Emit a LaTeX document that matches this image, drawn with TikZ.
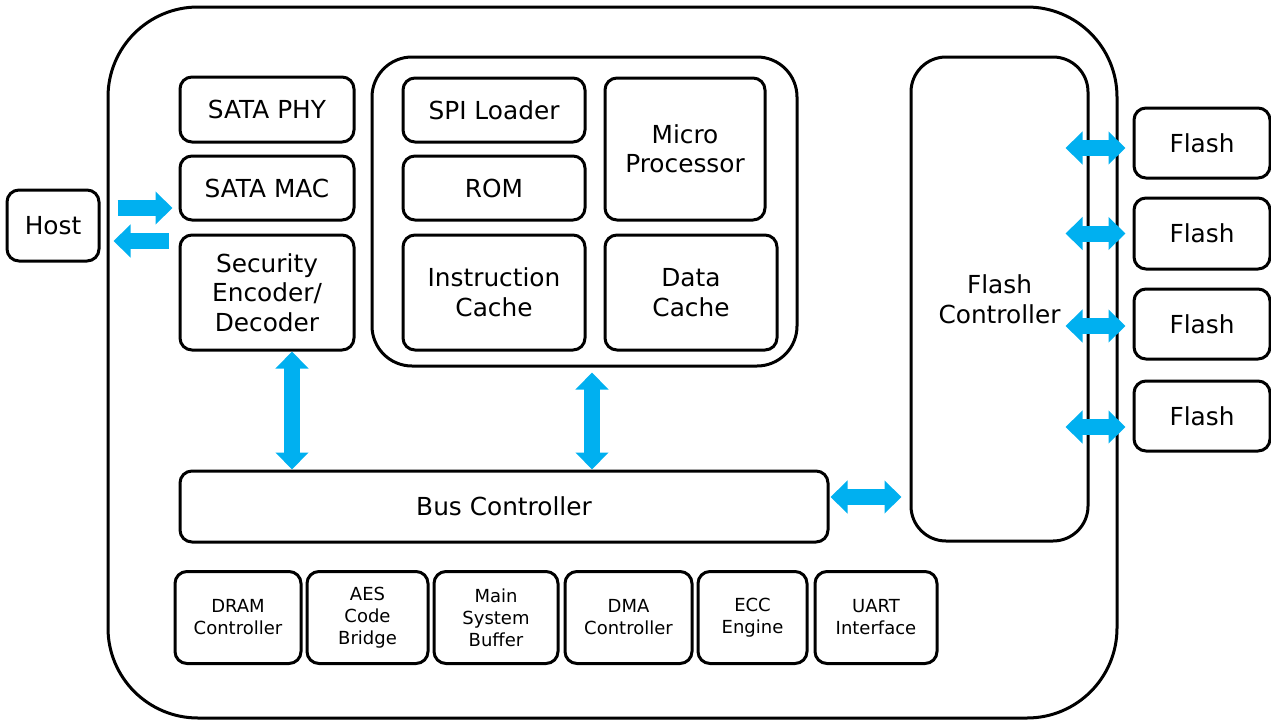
\documentclass[tikz,border=0pt]{standalone}
\usepackage{fontspec}
\setmainfont{DejaVu Sans}
\usetikzlibrary{arrows.meta}
\definecolor{arrowblue}{HTML}{00B0F0}
\tikzset{
  box/.style={draw=black, line width=3pt, rounded corners=12pt, align=center, inner sep=0pt,
    font=\fontsize{24.8}{29.5}\selectfont},
  smallbox/.style={box, font=\fontsize{18}{22}\selectfont},
  bigbox/.style={draw=black, line width=3pt, rounded corners=40pt, inner sep=0pt},
  dbl/.style={draw=arrowblue, line width=16pt,
    {Triangle[length=17pt,width=32pt]}-{Triangle[length=17pt,width=32pt]}},
  sgl/.style={draw=arrowblue, line width=16pt, -{Triangle[length=17pt,width=32pt]}}
}
\begin{document}
\begin{tikzpicture}[x=1pt,y=-1pt]
\useasboundingbox (0,0) rectangle (1271,720);
% outer chip
\node[bigbox, rounded corners=90pt, minimum width=1009pt, minimum height=711pt] (chip) at (612.5,362.5) {};
% host
\node[box, minimum width=92pt, minimum height=71pt] (host) at (53,225.5) {Host};
% left column
\node[box, minimum width=174pt, minimum height=65pt] (sataphy) at (267,109.5) {SATA PHY};
\node[box, minimum width=174pt, minimum height=64pt] (satamac) at (267,188) {SATA MAC};
\node[box, minimum width=174pt, minimum height=115pt] (sec) at (267,292.5) {Security\\Encoder/\\Decoder};
% processor group
\node[bigbox, minimum width=425pt, minimum height=309pt] (procgrp) at (584.5,211.5) {};
\node[box, minimum width=182pt, minimum height=64pt] (spi) at (494,110) {SPI Loader};
\node[box, minimum width=182pt, minimum height=64pt] (rom) at (494,188) {ROM};
\node[box, minimum width=160pt, minimum height=142pt] (micro) at (685,149) {Micro\\Processor};
\node[box, minimum width=182pt, minimum height=115pt] (icache) at (494,292.5) {Instruction\\Cache};
\node[box, minimum width=172pt, minimum height=115pt] (dcache) at (691,292.5) {Data\\Cache};
% flash controller
\node[bigbox, rounded corners=35pt, minimum width=177pt, minimum height=484pt, align=center,
  font=\fontsize{24.8}{29.5}\selectfont] (flashctrl) at (999.5,299) {Flash\\Controller};
% flash chips
\node[box, minimum width=136pt, minimum height=70pt] (flash1) at (1202,143) {Flash};
\node[box, minimum width=136pt, minimum height=71pt] (flash2) at (1202,233.5) {Flash};
\node[box, minimum width=136pt, minimum height=70pt] (flash3) at (1202,324) {Flash};
\node[box, minimum width=136pt, minimum height=70pt] (flash4) at (1202,416) {Flash};
% bus controller
\node[box, minimum width=648pt, minimum height=71pt] (bus) at (504,506.5) {Bus Controller};
% bottom blocks
\node[smallbox, minimum width=126pt, minimum height=92pt] (dram) at (238,617.5) {DRAM\\Controller};
\node[smallbox, minimum width=121pt, minimum height=92pt] (aes) at (367.5,617.5) {AES\\Code\\Bridge};
\node[smallbox, minimum width=124pt, minimum height=92pt] (msb) at (496,617.5) {Main\\System\\Buffer};
\node[smallbox, minimum width=127pt, minimum height=92pt] (dma) at (628.5,617.5) {DMA\\Controller};
\node[smallbox, minimum width=109pt, minimum height=92pt] (ecc) at (752.5,617.5) {ECC\\Engine};
\node[smallbox, minimum width=122pt, minimum height=92pt] (uart) at (876,617.5) {UART\\Interface};
% host arrows
\coordinate (h1s) at ([xshift=17pt,yshift=17.5pt]host.east);
\coordinate (h1e) at ([xshift=-6pt]satamac.west |- h1s);
\draw[sgl] (h1s) -- (h1e);
\coordinate (h2e) at ([xshift=13pt,yshift=-15.5pt]host.east);
\coordinate (h2s) at ([xshift=-10pt]satamac.west |- h2e);
\draw[sgl] (h2s) -- (h2e);
% vertical arrows
\draw[dbl] ([xshift=25pt]sec.south) -- ([xshift=25pt]sec.south |- bus.north);
\draw[dbl] ([xshift=7.5pt,yshift=-5pt]procgrp.south) -- ([xshift=7.5pt]procgrp.south |- bus.north);
% bus to flash controller
\coordinate (bf1) at ([xshift=1pt,yshift=9.5pt]bus.east);
\coordinate (bf2) at ([xshift=-8pt]flashctrl.west |- bf1);
\draw[dbl] (bf1) -- (bf2);
% flash arrows
\draw[dbl] ([xshift=-67pt,yshift=-5pt]flash1.west) -- ([xshift=-7pt,yshift=-5pt]flash1.west);
\draw[dbl] ([xshift=-67pt]flash2.west) -- ([xshift=-7pt]flash2.west);
\draw[dbl] ([xshift=-67pt,yshift=-2pt]flash3.west) -- ([xshift=-7pt,yshift=-2pt]flash3.west);
\draw[dbl] ([xshift=-67pt,yshift=-11pt]flash4.west) -- ([xshift=-7pt,yshift=-11pt]flash4.west);
\end{tikzpicture}
\end{document}
